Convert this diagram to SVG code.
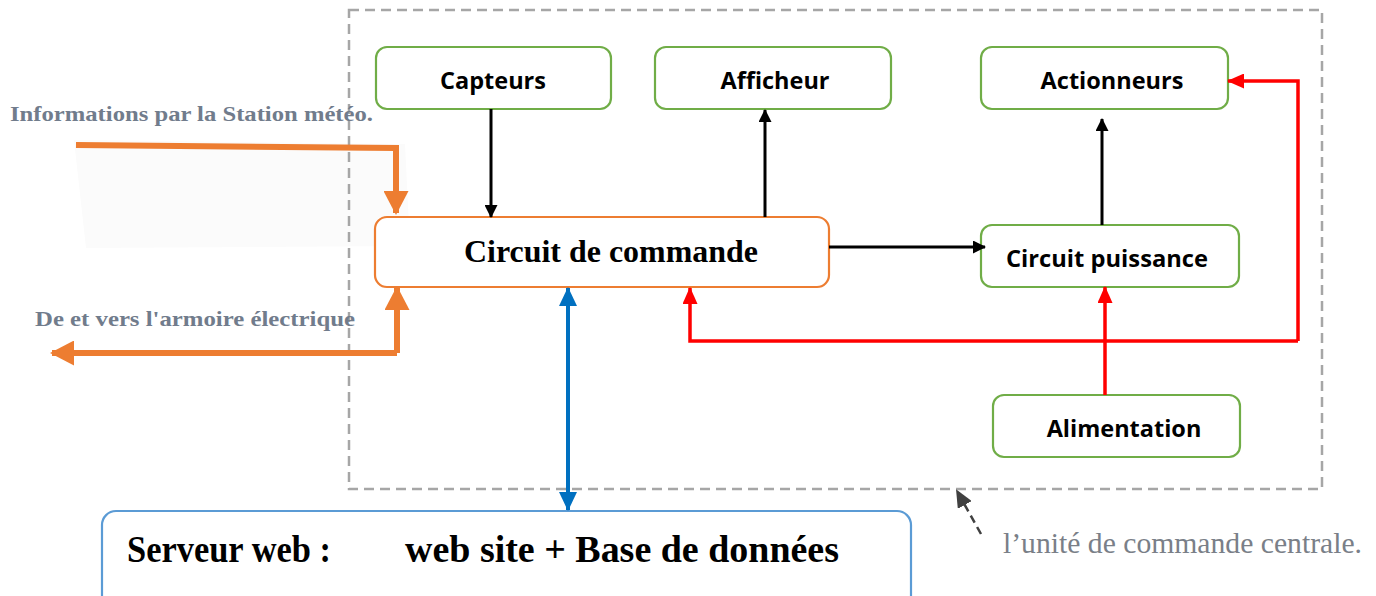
<svg xmlns="http://www.w3.org/2000/svg" width="1376" height="596" viewBox="0 0 1376 596">
  <style>
    .green { fill: #ffffff; stroke: #70AD47; stroke-width: 2.2; }
    .lbl { font-family: "Open Sans", "Liberation Sans", sans-serif; font-weight: 700; font-size: 23.5px; fill: #000000; }
    .serif { font-family: "Liberation Serif", "DejaVu Serif", serif; font-weight: 700; fill: #000000; }
    .note { font-family: "Liberation Serif", "DejaVu Serif", serif; font-weight: 700; font-size: 21px; fill: #717c8c; }
    .black { stroke: #000000; stroke-width: 3; fill: none; }
    .red { stroke: #FF0000; stroke-width: 3.5; fill: none; stroke-linejoin: miter; }
    .blue { stroke: #0070C0; stroke-width: 4; fill: none; }
    .orange { stroke: #ED7D31; stroke-width: 6; fill: none; }
  </style>
  <defs>
    <marker id="arrBlack" markerUnits="userSpaceOnUse" markerWidth="13" markerHeight="13" refX="12" refY="6.5" orient="auto">
      <path d="M0,0 L13,6.5 L0,13 z" fill="#000000"/>
    </marker>
    <marker id="arrRed" markerUnits="userSpaceOnUse" markerWidth="17" markerHeight="15" refX="16" refY="7.5" orient="auto">
      <path d="M0,0 L17,7.5 L0,15 z" fill="#FF0000"/>
    </marker>
    <marker id="arrBlue" markerUnits="userSpaceOnUse" markerWidth="19" markerHeight="18" refX="18" refY="9" orient="auto-start-reverse">
      <path d="M0,0 L19,9 L0,18 z" fill="#0070C0"/>
    </marker>
    <marker id="arrOrange" markerUnits="userSpaceOnUse" markerWidth="24" markerHeight="25" refX="22" refY="12.5" orient="auto">
      <path d="M0,0 L24,12.5 L0,25 z" fill="#ED7D31"/>
    </marker>
    <marker id="arrGrey" markerUnits="userSpaceOnUse" markerWidth="18" markerHeight="16" refX="16" refY="8" orient="auto">
      <path d="M0,0 L18,8 L0,16 z" fill="#404040"/>
    </marker>
  </defs>

  <rect width="1376" height="596" fill="#ffffff"/>

  <!-- faint backing behind the weather-station input -->
  <polygon points="74,140 405,144 410,246 86,248" fill="#fbfbfb"/>

  <!-- central unit boundary -->
  <rect id="unite-centrale" x="349" y="10" width="973" height="479" fill="none" stroke="#A6A6A6" stroke-width="2.5" stroke-dasharray="10 6"/>

  <g id="capteurs">
    <rect class="green" x="376" y="47" width="235" height="62" rx="11"/>
    <text class="lbl" x="493" y="89" text-anchor="middle">Capteurs</text>
  </g>
  <g id="afficheur">
    <rect class="green" x="655" y="47" width="236" height="62" rx="11"/>
    <text class="lbl" x="775" y="89" text-anchor="middle">Afficheur</text>
  </g>
  <g id="actionneurs">
    <rect class="green" x="981" y="47" width="247" height="62" rx="11"/>
    <text class="lbl" x="1112" y="89" text-anchor="middle">Actionneurs</text>
  </g>
  <g id="circuit-commande">
    <rect x="375" y="217" width="454" height="70" rx="12" fill="#ffffff" stroke="#ED7D31" stroke-width="2.2"/>
    <text class="serif" x="611" y="262" font-size="32" text-anchor="middle" textLength="294" lengthAdjust="spacingAndGlyphs">Circuit de commande</text>
  </g>
  <g id="circuit-puissance">
    <rect class="green" x="981" y="225" width="258" height="62" rx="11"/>
    <text class="lbl" x="1107" y="267" text-anchor="middle" textLength="202" lengthAdjust="spacingAndGlyphs">Circuit puissance</text>
  </g>
  <g id="alimentation">
    <rect class="green" x="993" y="395" width="247" height="62" rx="11"/>
    <text class="lbl" x="1124" y="437" text-anchor="middle">Alimentation</text>
  </g>
  <g id="serveur-web">
    <rect x="102" y="511" width="809" height="110" rx="14" fill="#ffffff" stroke="#5B9BD5" stroke-width="2.2"/>
    <text class="serif" x="127" y="562" font-size="37" textLength="204" lengthAdjust="spacingAndGlyphs">Serveur web :</text>
    <text class="serif" x="405" y="562" font-size="37" textLength="434" lengthAdjust="spacingAndGlyphs">web site  + Base de données</text>
  </g>

  <g id="labels">
    <text class="note" x="10" y="121" textLength="363" lengthAdjust="spacingAndGlyphs">Informations par la Station météo.</text>
    <text class="note" x="35" y="326" textLength="320" lengthAdjust="spacingAndGlyphs">De et vers l'armoire électrique</text>
    <text x="1003" y="553" font-family="Liberation Serif, DejaVu Serif, serif" font-size="30" fill="#7a7f88" textLength="359" lengthAdjust="spacingAndGlyphs">l’unité de commande centrale.</text>
  </g>

  <g id="connectors">
    <!-- control signals -->
    <line class="black" x1="491" y1="109" x2="491" y2="217" marker-end="url(#arrBlack)"/>
    <line class="black" x1="765" y1="217" x2="765" y2="110" marker-end="url(#arrBlack)"/>
    <line class="black" x1="829" y1="247" x2="985" y2="247" marker-end="url(#arrBlack)"/>
    <line class="black" x1="1102" y1="225" x2="1102" y2="119" marker-end="url(#arrBlack)"/>
    <!-- power lines -->
    <line class="red" x1="1105" y1="395" x2="1105" y2="287" marker-end="url(#arrRed)"/>
    <path class="red" d="M1298,341 L690,341 L690,288" marker-end="url(#arrRed)"/>
    <path class="red" d="M1298,341 L1298,81 L1228,81" marker-end="url(#arrRed)"/>
    <!-- web server link -->
    <line class="blue" x1="568" y1="288" x2="568" y2="510" marker-start="url(#arrBlue)" marker-end="url(#arrBlue)"/>
    <!-- external inputs / outputs -->
    <path class="orange" d="M76,145 L396,148 L396,213" marker-end="url(#arrOrange)"/>
    <path class="orange" d="M397,353 L397,288" marker-end="url(#arrOrange)"/>
    <path class="orange" d="M397,353 L52,353" marker-end="url(#arrOrange)"/>
    <!-- pointer to the central unit -->
    <line x1="981" y1="534" x2="957" y2="491" stroke="#404040" stroke-width="2.5" stroke-dasharray="8 5" marker-end="url(#arrGrey)"/>
  </g>
</svg>
